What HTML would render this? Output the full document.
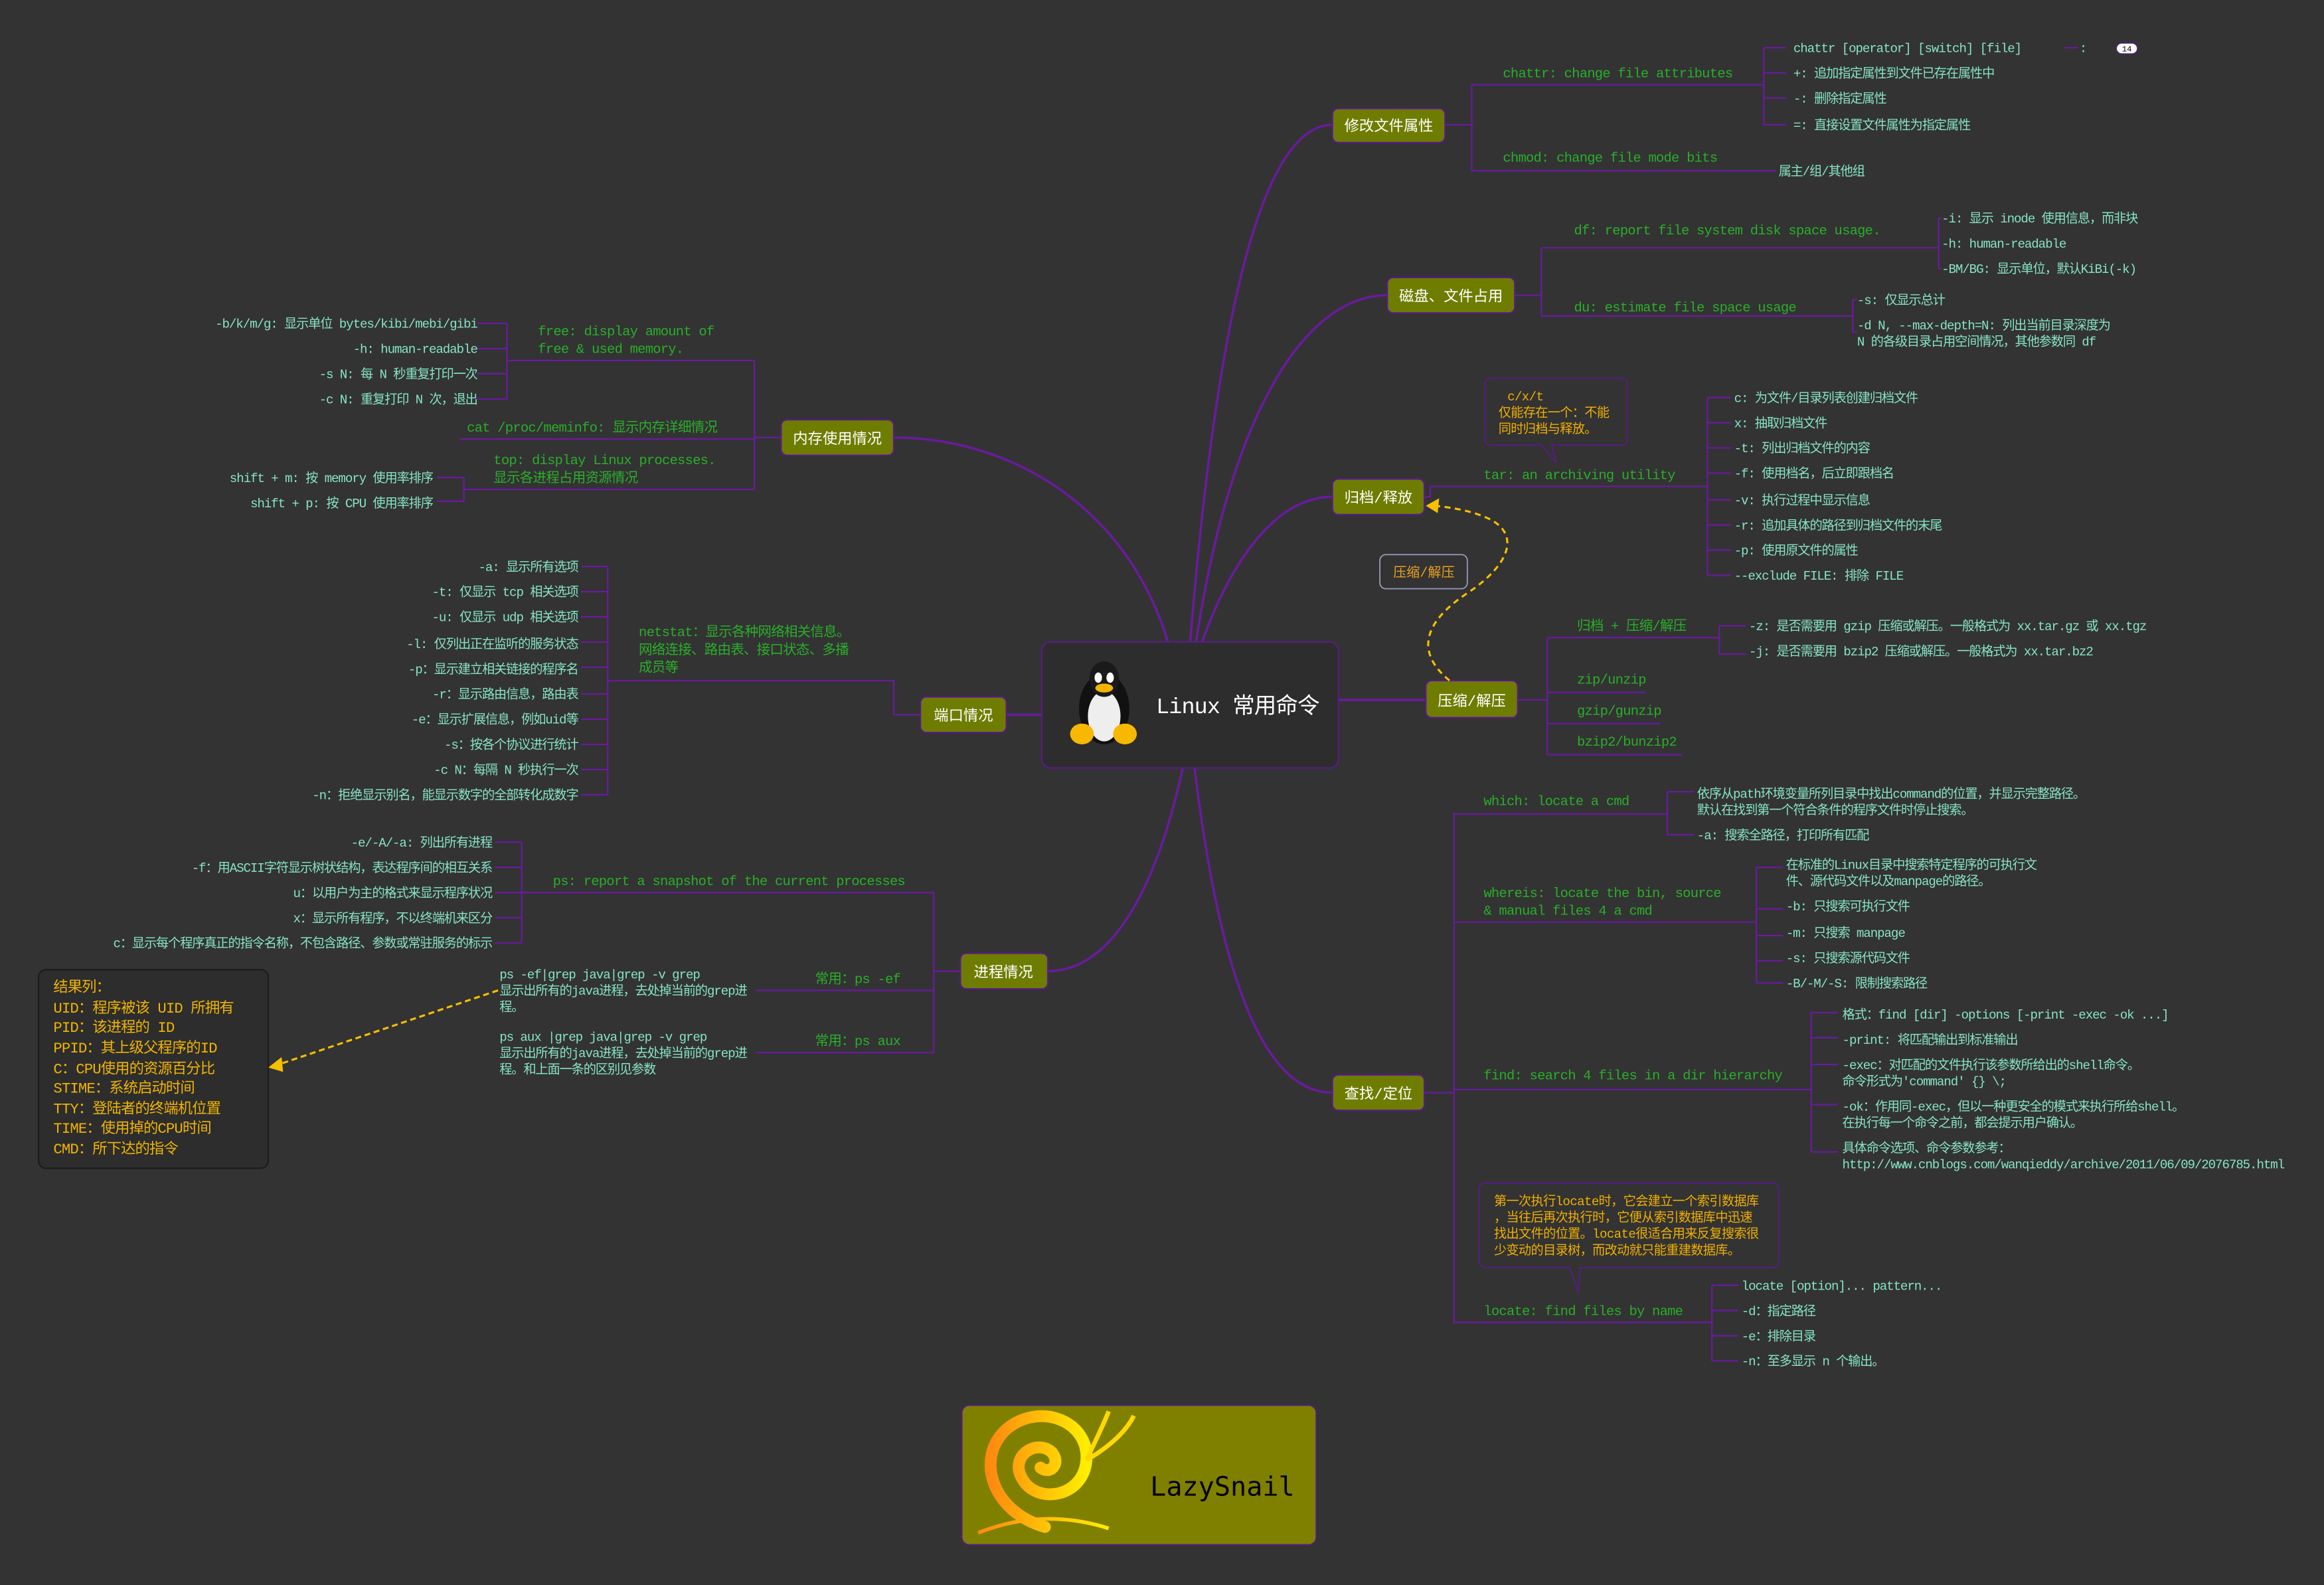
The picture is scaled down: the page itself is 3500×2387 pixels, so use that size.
<!DOCTYPE html>
<html><head><meta charset="utf-8"><style>
html,body{margin:0;padding:0;background:#333333;}
svg{display:block;}
text{font-family:"Liberation Mono","Noto Sans CJK SC",monospace;}
.lf{fill:#86e3c6;font-size:8.6px;letter-spacing:-0.5px;}
.md{fill:#2aae2a;font-size:9.2px;letter-spacing:-0.35px;}
.nd{fill:#ffffff;font-size:10px;text-anchor:middle;}
.or{fill:#f0b000;font-size:8.6px;letter-spacing:-0.3px;}
.ln{stroke:#6a1aa0;stroke-width:1;fill:none;}
.br{stroke:#6a1aa0;stroke-width:1.6;fill:none;}
.bx{fill:#6e7d00;stroke:#5a1a8a;stroke-width:1;}
.r{text-anchor:end;}
</style></head><body>
<svg width="3500" height="2387" viewBox="0 0 1568 1069" xmlns="http://www.w3.org/2000/svg">
<rect width="1568" height="1069" fill="#333333"/>
<defs>
<linearGradient id="sg" x1="0" x2="1"><stop offset="0" stop-color="#ff8a10"/><stop offset="1" stop-color="#ffee00"/></linearGradient>
</defs>
<path class="br" d="M803 433 C 818 250, 845 84, 899 84"/>
<path class="br" d="M807 433 C 830 280, 880 199, 936 199"/>
<path class="br" d="M811 433 C 830 380, 860 335, 899 335"/>
<path class="br" d="M903 472 L 962 472"/>
<path class="br" d="M806 518 C 822 650, 850 737, 899 737"/>
<path class="br" d="M788 433 C 760 340, 680 295, 603 295"/>
<path class="br" d="M703 482 L 679 482"/>
<path class="br" d="M798 518 C 780 600, 750 655, 707 655"/>

<rect x="703" y="433" width="200" height="85" rx="6" fill="#2d2d2d" stroke="#5a1a8a" stroke-width="1"/>
<g>
<ellipse cx="745" cy="478" rx="17" ry="24" fill="#111"/>
<ellipse cx="745" cy="483" rx="11" ry="17" fill="#eee"/>
<ellipse cx="745" cy="458" rx="10" ry="12" fill="#1a1a1a"/>
<ellipse cx="741" cy="457" rx="2.5" ry="3.5" fill="#fff"/><ellipse cx="749" cy="457" rx="2.5" ry="3.5" fill="#fff"/>
<ellipse cx="745" cy="464" rx="6" ry="3" fill="#f5b400"/>
<ellipse cx="730" cy="495" rx="8" ry="7" fill="#f8b800"/>
<ellipse cx="759" cy="495" rx="8" ry="7" fill="#f8b800"/>
</g>
<text x="780" y="481" style="fill:#fff;font-size:15px;letter-spacing:-0.4px;">Linux 常用命令</text>

<rect class="bx" x="899" y="73" width="76" height="23" rx="4"/><text class="nd" x="937" y="88">修改文件属性</text>
<rect class="bx" x="936" y="187" width="86" height="24" rx="4"/><text class="nd" x="979" y="203">磁盘、文件占用</text>
<rect class="bx" x="899" y="323" width="62" height="24" rx="4"/><text class="nd" x="930" y="339">归档/释放</text>
<rect class="bx" x="962" y="459" width="62" height="25" rx="4"/><text class="nd" x="993" y="476">压缩/解压</text>
<rect class="bx" x="899" y="725" width="62" height="24" rx="4"/><text class="nd" x="930" y="741">查找/定位</text>
<rect class="bx" x="527" y="283" width="76" height="24" rx="4"/><text class="nd" x="565" y="299">内存使用情况</text>
<rect class="bx" x="621" y="470" width="58" height="24" rx="4"/><text class="nd" x="650" y="486">端口情况</text>
<rect class="bx" x="648" y="643" width="59" height="24" rx="4"/><text class="nd" x="677" y="659">进程情况</text>

<path class="ln" d="M975 84 H993 M993 57 V115 M993 57 H1190 M993 115 H1198 M1190 32 V84 M1190 32 H1205 M1190 49 H1205 M1190 66 H1205 M1190 84 H1205 M1393 32 H1402"/>
<text class="md" x="1014" y="52">chattr: change file attributes</text>
<text class="md" x="1014" y="109">chmod: change file mode bits</text>
<text class="lf" x="1210" y="35">chattr [operator] [switch] [file]</text>
<text class="lf" x="1403" y="35">:</text>
<rect x="1428" y="29" width="14" height="7" rx="3.5" fill="#fff" stroke="#6a1aa0" stroke-width="0.5"/><text x="1435" y="34.5" style="font-size:5.5px;fill:#000;text-anchor:middle;">14</text>
<text class="lf" x="1210" y="52">+: 追加指定属性到文件已存在属性中</text>
<text class="lf" x="1210" y="69">-: 删除指定属性</text>
<text class="lf" x="1210" y="87">=: 直接设置文件属性为指定属性</text>
<text class="lf" x="1200" y="118">属主/组/其他组</text>

<path class="ln" d="M1022 199 H1040 M1040 167 V213 M1040 167 H1308 M1040 213 H1250 M1308 147 V181 M1308 147 H1310 M1308 181 H1310 M1250 202 V224 M1250 202 H1253 M1250 224 H1253"/>
<text class="md" x="1062" y="158">df: report file system disk space usage.</text>
<text class="md" x="1062" y="210">du: estimate file space usage</text>
<text class="lf" x="1310" y="150">-i: 显示 inode 使用信息，而非块</text>
<text class="lf" x="1310" y="167">-h: human-readable</text>
<text class="lf" x="1310" y="184">-BM/BG: 显示单位，默认KiBi(-k)</text>
<text class="lf" x="1253" y="205">-s: 仅显示总计</text>
<text class="lf" x="1253" y="222">-d N, --max-depth=N: 列出当前目录深度为</text>
<text class="lf" x="1253" y="233">N 的各级目录占用空间情况，其他参数同 df</text>

<path class="ln" d="M961 335 H965 V328 H1152 M1152 268 V388 M1152 268 H1168 M1152 285 H1168 M1152 302 H1168 M1152 319 H1168 M1152 337 H1168 M1152 354 H1168 M1152 371 H1168 M1152 388 H1168"/>
<text class="md" x="1001" y="323">tar: an archiving utility</text>
<path d="M1006 255 H1094 Q1098 255 1098 259 V296 Q1098 300 1094 300 H1047 L1050 312 L1040 300 H1006 Q1002 300 1002 296 V259 Q1002 255 1006 255 Z" fill="#333" stroke="#5a1a8a" stroke-width="0.8"/>
<text class="or" x="1017" y="270">c/x/t</text>
<text class="or" x="1011" y="281">仅能存在一个：不能</text>
<text class="or" x="1011" y="292">同时归档与释放。</text>
<text class="lf" x="1170" y="271">c: 为文件/目录列表创建归档文件</text>
<text class="lf" x="1170" y="288">x: 抽取归档文件</text>
<text class="lf" x="1170" y="305">-t: 列出归档文件的内容</text>
<text class="lf" x="1170" y="322">-f: 使用档名，后立即跟档名</text>
<text class="lf" x="1170" y="340">-v: 执行过程中显示信息</text>
<text class="lf" x="1170" y="357">-r: 追加具体的路径到归档文件的末尾</text>
<text class="lf" x="1170" y="374">-p: 使用原文件的属性</text>
<text class="lf" x="1170" y="391">--exclude FILE: 排除 FILE</text>

<path d="M978 459 C 955 440, 960 420, 990 400 C 1020 380, 1025 360, 1005 350 C 990 343, 975 342, 968 341" fill="none" stroke="#f5c000" stroke-width="1.4" stroke-dasharray="4,3"/>
<path d="M962 341 L971 336 L970 346 Z" fill="#f5c000"/>
<rect x="931" y="374" width="59" height="23" rx="4" fill="#333" stroke="#9a9ac0" stroke-width="0.8"/>
<text x="940" y="389" style="fill:#e8a020;font-size:9px;">压缩/解压</text>

<path class="ln" d="M1024 472 H1044 M1044 430 V509 M1044 430 H1160 M1044 467 H1110 M1044 488 H1120 M1044 509 H1135 M1160 422 V441 M1160 422 H1178 M1160 441 H1178"/>
<text class="md" x="1064" y="425">归档 + 压缩/解压</text>
<text class="md" x="1064" y="461">zip/unzip</text>
<text class="md" x="1064" y="482">gzip/gunzip</text>
<text class="md" x="1064" y="503">bzip2/bunzip2</text>
<text class="lf" x="1180" y="425">-z: 是否需要用 gzip 压缩或解压。一般格式为 xx.tar.gz 或 xx.tgz</text>
<text class="lf" x="1180" y="442">-j: 是否需要用 bzip2 压缩或解压。一般格式为 xx.tar.bz2</text>

<path class="ln" d="M961 737 H981 M981 548 V893 M981 549 H1125 M981 622 H1185 M981 735 H1222 M981 892 H1155
M1125 534 V563 M1125 534 H1143 M1125 563 H1143
M1185 585 V663 M1185 585 H1203 M1185 613 H1203 M1185 631 H1203 M1185 648 H1203 M1185 663 H1203
M1222 683 V777 M1222 683 H1240 M1222 700 H1240 M1222 718 H1240 M1222 745 H1240 M1222 777 H1240
M1155 867 V918 M1155 867 H1173 M1155 884 H1173 M1155 901 H1173 M1155 918 H1173"/>
<text class="md" x="1001" y="543">which: locate a cmd</text>
<text class="md" x="1001" y="605">whereis: locate the bin, source</text>
<text class="md" x="1001" y="617">&amp; manual files 4 a cmd</text>
<text class="md" x="1001" y="728">find: search 4 files in a dir hierarchy</text>
<text class="md" x="1001" y="887">locate: find files by name</text>
<text class="lf" x="1145" y="538">依序从path环境变量所列目录中找出command的位置，并显示完整路径。</text>
<text class="lf" x="1145" y="549">默认在找到第一个符合条件的程序文件时停止搜索。</text>
<text class="lf" x="1145" y="566">-a: 搜索全路径，打印所有匹配</text>
<text class="lf" x="1205" y="586">在标准的Linux目录中搜索特定程序的可执行文</text>
<text class="lf" x="1205" y="597">件、源代码文件以及manpage的路径。</text>
<text class="lf" x="1205" y="614">-b: 只搜索可执行文件</text>
<text class="lf" x="1205" y="632">-m: 只搜索 manpage</text>
<text class="lf" x="1205" y="649">-s: 只搜索源代码文件</text>
<text class="lf" x="1205" y="666">-B/-M/-S: 限制搜索路径</text>
<text class="lf" x="1243" y="687">格式：find [dir] -options [-print -exec -ok ...]</text>
<text class="lf" x="1243" y="704">-print: 将匹配输出到标准输出</text>
<text class="lf" x="1243" y="721">-exec：对匹配的文件执行该参数所给出的shell命令。</text>
<text class="lf" x="1243" y="732">命令形式为'command' {} \;</text>
<text class="lf" x="1243" y="749">-ok：作用同-exec，但以一种更安全的模式来执行所给shell。</text>
<text class="lf" x="1243" y="760">在执行每一个命令之前，都会提示用户确认。</text>
<text class="lf" x="1243" y="777">具体命令选项、命令参数参考：</text>
<text class="lf" x="1243" y="788">http://www.cnblogs.com/wanqieddy/archive/2011/06/09/2076785.html</text>
<path d="M1003 798 H1196 Q1200 798 1200 802 V851 Q1200 855 1196 855 H1066 L1065 872 L1059 855 H1003 Q998 855 998 851 V802 Q998 798 1003 798 Z" fill="#333" stroke="#5a1a8a" stroke-width="0.8"/>
<text class="or" x="1008" y="813">第一次执行locate时，它会建立一个索引数据库</text>
<text class="or" x="1008" y="824">，当往后再次执行时，它便从索引数据库中迅速</text>
<text class="or" x="1008" y="835">找出文件的位置。locate很适合用来反复搜索很</text>
<text class="or" x="1008" y="846">少变动的目录树，而改动就只能重建数据库。</text>
<text class="lf" x="1175" y="870">locate [option]... pattern...</text>
<text class="lf" x="1175" y="887">-d：指定路径</text>
<text class="lf" x="1175" y="904">-e：排除目录</text>
<text class="lf" x="1175" y="921">-n：至多显示 n 个输出。</text>

<path class="ln" d="M527 295 H509 M509 243 V330 M342 243 H509 M310 296 H509 M313 330 H509
M342 218 V269 M322 218 H342 M322 235 H342 M322 252 H342 M322 269 H342
M313 322 V338 M295 322 H313 M295 338 H313"/>
<text class="md" x="363" y="226">free: display amount of</text>
<text class="md" x="363" y="238">free &amp; used memory.</text>
<text class="md" x="315" y="291">cat /proc/meminfo: 显示内存详细情况</text>
<text class="md" x="333" y="313">top: display Linux processes.</text>
<text class="md" x="333" y="325">显示各进程占用资源情况</text>
<text class="lf r" x="322" y="221">-b/k/m/g: 显示单位 bytes/kibi/mebi/gibi</text>
<text class="lf r" x="322" y="238">-h: human-readable</text>
<text class="lf r" x="322" y="255">-s N: 每 N 秒重复打印一次</text>
<text class="lf r" x="322" y="272">-c N: 重复打印 N 次，退出</text>
<text class="lf r" x="292" y="325">shift + m: 按 memory 使用率排序</text>
<text class="lf r" x="292" y="342">shift + p: 按 CPU 使用率排序</text>

<path class="ln" d="M621 482 H603 V459 H410 M410 382 V536 M392 382 H410 M392 399 H410 M392 416 H410 M392 433 H410 M392 450 H410 M392 468 H410 M392 485 H410 M392 502 H410 M392 519 H410 M392 536 H410"/>
<text class="md" x="431" y="429">netstat：显示各种网络相关信息。</text>
<text class="md" x="431" y="441">网络连接、路由表、接口状态、多播</text>
<text class="md" x="431" y="453">成员等</text>
<text class="lf r" x="390" y="385">-a: 显示所有选项</text>
<text class="lf r" x="390" y="402">-t: 仅显示 tcp 相关选项</text>
<text class="lf r" x="390" y="419">-u: 仅显示 udp 相关选项</text>
<text class="lf r" x="390" y="437">-l: 仅列出正在监听的服务状态</text>
<text class="lf r" x="390" y="454">-p：显示建立相关链接的程序名</text>
<text class="lf r" x="390" y="471">-r：显示路由信息，路由表</text>
<text class="lf r" x="390" y="488">-e：显示扩展信息，例如uid等</text>
<text class="lf r" x="390" y="505">-s：按各个协议进行统计</text>
<text class="lf r" x="390" y="522">-c N：每隔 N 秒执行一次</text>
<text class="lf r" x="390" y="539">-n：拒绝显示别名，能显示数字的全部转化成数字</text>

<path class="ln" d="M648 655 H630 M630 602 V710 M352 602 H630 M510 668 H630 M510 710 H630
M352 568 V636 M334 568 H352 M334 585 H352 M334 602 H352 M334 619 H352 M334 636 H352"/>
<text class="md" x="373" y="597">ps: report a snapshot of the current processes</text>
<text class="md" x="550" y="663">常用：ps -ef</text>
<text class="md" x="550" y="705">常用：ps aux</text>
<text class="lf r" x="332" y="571">-e/-A/-a: 列出所有进程</text>
<text class="lf r" x="332" y="588">-f：用ASCII字符显示树状结构，表达程序间的相互关系</text>
<text class="lf r" x="332" y="605">u：以用户为主的格式来显示程序状况</text>
<text class="lf r" x="332" y="622">x：显示所有程序，不以终端机来区分</text>
<text class="lf r" x="332" y="639">c：显示每个程序真正的指令名称，不包含路径、参数或常驻服务的标示</text>
<text class="lf" x="337" y="660">ps -ef|grep java|grep -v grep</text>
<text class="lf" x="337" y="671">显示出所有的java进程，去处掉当前的grep进</text>
<text class="lf" x="337" y="682">程。</text>
<text class="lf" x="337" y="702">ps aux |grep java|grep -v grep</text>
<text class="lf" x="337" y="713">显示出所有的java进程，去处掉当前的grep进</text>
<text class="lf" x="337" y="724">程。和上面一条的区别见参数</text>

<rect x="26" y="654" width="155" height="134" rx="5" fill="#2d2d2d" stroke="#1c1c1c" stroke-width="1"/>
<g style="fill:#f0b400;font-size:10px;letter-spacing:-0.4px;">
<text x="36" y="669">结果列：</text>
<text x="36" y="683">UID：程序被该 UID 所拥有</text>
<text x="36" y="696">PID：该进程的 ID</text>
<text x="36" y="710">PPID：其上级父程序的ID</text>
<text x="36" y="724">C：CPU使用的资源百分比</text>
<text x="36" y="737">STIME：系统启动时间</text>
<text x="36" y="751">TTY：登陆者的终端机位置</text>
<text x="36" y="764">TIME：使用掉的CPU时间</text>
<text x="36" y="778">CMD：所下达的指令</text>
</g>
<path d="M336 668 L188 718" stroke="#f5c000" stroke-width="1.4" stroke-dasharray="4,2.5" fill="none"/>
<path d="M181 720 L190 713 L191 723 Z" fill="#f5c000"/>

<rect x="649" y="948" width="239" height="94" rx="5" fill="#808000" stroke="#5a1a8a" stroke-width="0.8"/>
<path d="M705 1030 C 670 1020, 658 985, 678 965 C 700 945, 735 958, 733 985 C 731 1010, 700 1015, 690 998 C 680 982, 700 970, 710 980 C 716 988, 708 995, 702 990" fill="none" stroke="url(#sg)" stroke-width="8" stroke-linecap="round"/>
<path d="M733 985 C 740 970, 745 960, 748 952 M733 985 C 750 975, 760 965, 765 955" fill="none" stroke="#ffd800" stroke-width="3"/>
<path d="M660 1034 C 690 1022, 720 1022, 748 1031" fill="none" stroke="url(#sg)" stroke-width="2.5"/>
<text x="776" y="1009" style="fill:#000;font-size:18px;font-family:'DejaVu Sans Mono','Liberation Mono',monospace;">LazySnail</text>
</svg>
</body></html>
